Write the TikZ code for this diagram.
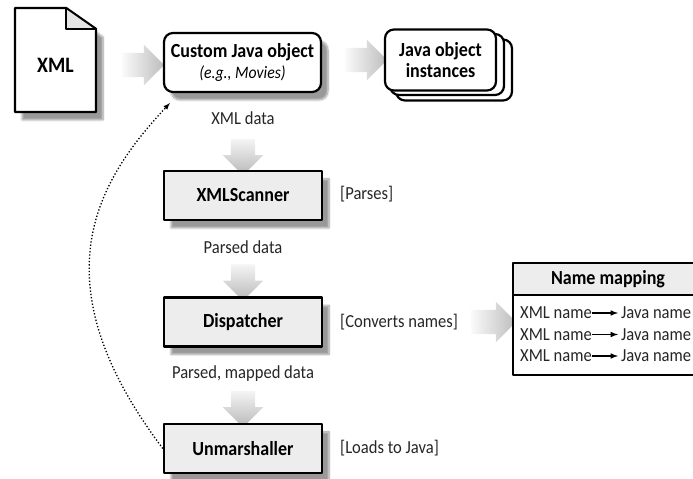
\documentclass[tikz,border=0pt]{standalone}
\usepackage{fontspec}
\setmainfont[FakeStretch=0.9]{Carlito}
\usetikzlibrary{shapes.arrows,shadows.blur}
\tikzset{
  labeltext/.style={font=\fontsize{18.4bp}{21bp}\selectfont,inner sep=0pt,text=black!85},
  boldtext/.style={font=\fontsize{20bp}{21.5bp}\selectfont\bfseries,inner sep=0pt,align=center},
  boxshadow/.style={blur shadow={shadow xshift=7bp,shadow yshift=-8bp,shadow blur steps=8,shadow opacity=40}},
  stagebox/.style={draw,line width=2.4bp,fill=black!7,minimum width=158bp,minimum height=49bp,inner sep=0pt,boxshadow},
  roundbox/.style={draw,line width=2.2bp,fill=white,rounded corners=9bp,inner sep=0pt},
  rightblock/.style={single arrow,minimum height=42bp,minimum width=40bp,inner sep=12bp,single arrow head extend=8bp,single arrow head indent=0bp,outer sep=0pt,left color=black!2,right color=black!26},
  downblock/.style={single arrow,shape border rotate=270,minimum height=28bp,minimum width=40bp,inner sep=12bp,single arrow head extend=8bp,single arrow head indent=0bp,outer sep=0pt,top color=black!4,bottom color=black!28},
}
\begin{document}
\begin{tikzpicture}[>=latex,line join=bevel,]
%%
\useasboundingbox (0bp,0bp) rectangle (693bp,479bp);
% page with folded corner
\draw [line width=2.4bp,fill=white,boxshadow] (15bp,471bp) -- (66bp,471bp) -- (96bp,450bp) -- (96bp,367bp) -- (15bp,367bp) -- cycle;
\draw [line width=1.6bp,fill=black!10] (66bp,471bp) -- (66bp,450bp) -- (96bp,450bp) -- cycle;
\node (node_xml) at (55.5bp,414bp) [boldtext,font=\fontsize{22bp}{24bp}\selectfont\bfseries] {XML};
%
\node (node_arrow_a) at (137bp,414bp) [rightblock] {};
\node (node_custom) at (242.5bp,416.5bp) [roundbox,boldtext,minimum width=157bp,minimum height=59bp,boxshadow] {Custom Java object\\{\fontsize{17.5bp}{21.5bp}\selectfont\mdseries\itshape (e.g., Movies)}};
\node (node_arrow_b) at (360bp,419bp) [rightblock] {};
%
\node (node_stack_c) at (454bp,409bp) [roundbox,minimum width=116bp,minimum height=61bp] {};
\node (node_stack_b) at (447bp,414.5bp) [roundbox,minimum width=114bp,minimum height=61bp] {};
\node (node_stack_a) at (440.5bp,419bp) [roundbox,boldtext,minimum width=111bp,minimum height=61bp] {Java object\\instances};
%
\node (node_xmldata) at (243bp,361bp) [labeltext] {XML data};
\node (node_arrow_c) at (243bp,328bp) [downblock] {};
\node (node_scanner) at (243bp,283.5bp) [stagebox,boldtext] {XMLScanner};
\node (node_parses) at (340bp,285bp) [labeltext,anchor=west] {[Parses]};
%
\node (node_parsed) at (243bp,232bp) [labeltext] {Parsed data};
\node (node_arrow_d) at (243bp,202.5bp) [downblock,minimum height=33bp] {};
\node (node_dispatcher) at (243bp,157bp) [stagebox,boldtext] {Dispatcher};
\node (node_converts) at (340bp,157bp) [labeltext,anchor=west] {[Converts names]};
%
\node (node_mapped) at (243bp,105bp) [labeltext] {Parsed, mapped data};
\node (node_arrow_e) at (243bp,76bp) [downblock,minimum height=34bp] {};
\node (node_unmarshaller) at (243bp,30.5bp) [stagebox,boldtext] {Unmarshaller};
\node (node_loads) at (340bp,31bp) [labeltext,anchor=west] {[Loads to Java]};
%
\coordinate (node_return) at (170bp,376bp);
\draw [black,->,dotted,line width=1.3bp] (node_unmarshaller.west) ..controls (34bp,201bp) and (100bp,301bp)  .. (node_return);
%
\node (node_arrow_f) at (487.5bp,157bp) [rightblock,minimum height=45bp] {};
\node (node_maptitle) at (608bp,200bp) [draw,line width=2.2bp,fill=black!7,minimum width=190bp,minimum height=32bp,boldtext] {Name mapping};
\node (node_maprows) at (608bp,144bp) [draw,line width=2.2bp,fill=white,minimum width=190bp,minimum height=80bp,inner sep=0pt] {};
%
\node (node_xml_a) at (520bp,166bp) [labeltext,anchor=west] {XML name};
\node (node_java_a) at (621bp,166bp) [labeltext,anchor=west] {Java name};
\draw [black,->,line width=1.5bp,shorten >=3bp] (node_xml_a) -- (node_java_a);
\node (node_xml_b) at (520bp,144.5bp) [labeltext,anchor=west] {XML name};
\node (node_java_b) at (621bp,144.5bp) [labeltext,anchor=west] {Java name};
\draw [black,->,line width=1.5bp,shorten >=3bp] (node_xml_b) -- (node_java_b);
\node (node_xml_c) at (520bp,123bp) [labeltext,anchor=west] {XML name};
\node (node_java_c) at (621bp,123bp) [labeltext,anchor=west] {Java name};
\draw [black,->,line width=1.5bp,shorten >=3bp] (node_xml_c) -- (node_java_c);
%
\end{tikzpicture}
\end{document}
